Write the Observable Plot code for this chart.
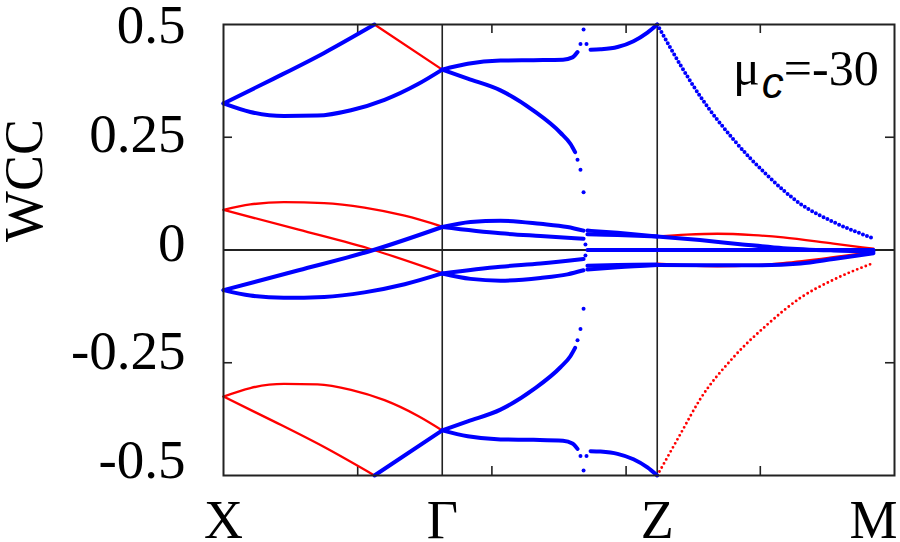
<!DOCTYPE html>
<html><head><meta charset="utf-8">
<script src="https://cdn.jsdelivr.net/npm/d3@7"></script>
<script src="https://cdn.jsdelivr.net/npm/@observablehq/plot@0.6"></script>
<style>body{margin:0;background:#fff}svg{display:block}</style>
</head><body><div id="chart"></div>
<script>
// ---- axis ticks / labels ----
const xTickPos = [0, 1.63, 3.232, 4.843];
const xTickLabels = ["X", "Γ", "Z", "M"];
const xMinorTicks = [1, 2, 3, 4];
const yTickValues = [0.5, 0.25, 0, -0.25, -0.5];
const yTickLabels = ["0.5", "0.25", "0", "-0.25", "-0.5"];
const yInnerTicks = [0.25, 0, -0.25];
const symLines = [1.63, 3.232];
const yLabel = "WCC";

// ---- red curves (solid) ----
const redXG1 = [[1.125,0.5],[1.63,0.40]];
const redXG2 = [[0,0.089],[0.2,0.101],[0.45,0.106],[0.75,0.104],[1.05,0.094],[1.35,0.076],[1.63,0.052]];
const redXG3 = [[0,0.089],[0.56,0.045],[1.118,0],[1.63,-0.051]];
const redXG4 = [[0,-0.325],[0.2,-0.306],[0.45,-0.297],[0.7,-0.298],[0.95,-0.31],[1.2,-0.333],[1.45,-0.368],[1.63,-0.40]];
const redXG5 = [[0,-0.325],[0.375,-0.38],[0.75,-0.437],[1.125,-0.5]];
const redZM1 = [[3.232,0.030],[3.45,0.034],[3.68,0.036],[3.95,0.033],[4.17,0.028],[4.545,0.014],[4.843,0.003]];
const redZM2 = [[3.232,0],[4.0,0.001],[4.843,0.001]];
const redZM3 = [[3.232,-0.030],[3.45,-0.034],[3.68,-0.036],[3.95,-0.034],[4.17,-0.029],[4.545,-0.016],[4.843,-0.004]];
// red dotted
const redZMbig = [[3.232,-0.5],[3.405,-0.408],[3.554,-0.33],[3.8,-0.238],[4.054,-0.165],[4.3,-0.106],[4.545,-0.066],[4.843,-0.029]];

// ---- blue curves (solid) ----
const blueXG1 = [[0,0.325],[0.375,0.38],[0.75,0.437],[1.125,0.5]];
const blueXG2 = [[0,0.325],[0.2,0.306],[0.45,0.297],[0.7,0.298],[0.95,0.31],[1.2,0.333],[1.45,0.368],[1.63,0.40]];
const blueXG3 = [[0,-0.089],[0.56,-0.045],[1.118,0],[1.63,0.051]];
const blueXG4 = [[0,-0.089],[0.2,-0.101],[0.45,-0.106],[0.75,-0.104],[1.05,-0.094],[1.35,-0.076],[1.63,-0.052]];
const blueXG5 = [[1.125,-0.5],[1.63,-0.40]];
const blueGZ1 = [[1.63,0.40],[1.82,0.413],[2.064,0.42],[2.31,0.421],[2.53,0.422],[2.6,0.427],[2.638,0.439]];
const blueGZ2 = [[2.735,0.444],[2.809,0.445],[2.936,0.45],[3.055,0.463],[3.159,0.482],[3.232,0.5]];
const blueGZ3 = [[1.63,0.40],[1.82,0.38],[2.064,0.354],[2.31,0.309],[2.511,0.26],[2.586,0.235],[2.62,0.217]];
const blueGZ4 = [[1.63,-0.40],[1.82,-0.413],[2.064,-0.42],[2.31,-0.421],[2.53,-0.423],[2.6,-0.429],[2.638,-0.441]];
const blueGZ5 = [[2.735,-0.446],[2.809,-0.447],[2.936,-0.452],[3.055,-0.464],[3.159,-0.482],[3.232,-0.5]];
const blueGZ6 = [[1.63,-0.40],[1.82,-0.38],[2.064,-0.354],[2.31,-0.309],[2.511,-0.26],[2.586,-0.235],[2.62,-0.217]];
const blueGZ7 = [[1.63,0.051],[1.841,0.062],[2.064,0.065],[2.362,0.058],[2.563,0.051],[2.683,0.043]];
const blueGZ8 = [[1.63,0.051],[2.064,0.037],[2.362,0.031],[2.683,0.025]];
const blueGZ9 = [[1.63,-0.052],[2.064,-0.037],[2.362,-0.030],[2.683,-0.020]];
const blueGZ10 = [[1.63,-0.052],[1.841,-0.064],[2.064,-0.068],[2.362,-0.062],[2.563,-0.054],[2.683,-0.045]];
const blueGZ11 = [[2.712,0.043],[2.936,0.038],[3.232,0.030]];
const blueGZ12 = [[2.712,0.035],[2.936,0.033],[3.232,0.030]];
const blueGZ13 = [[2.712,0],[3.232,0]];
const blueGZ14 = [[2.712,-0.035],[2.936,-0.033],[3.232,-0.032]];
const blueGZ15 = [[2.712,-0.043],[2.936,-0.038],[3.232,-0.033]];
const blueZM1 = [[3.232,0.030],[3.55,0.022],[3.85,0.013],[4.17,0.004],[4.545,-0.001],[4.843,-0.003]];
const blueZM2 = [[3.232,0],[4.843,0]];
const blueZM3 = [[3.232,-0.033],[3.6,-0.034],[3.95,-0.034],[4.3,-0.03],[4.545,-0.02],[4.843,-0.007]];
// blue dotted
const blueZMbig = [[3.232,0.5],[3.405,0.41],[3.554,0.34],[3.8,0.245],[4.054,0.165],[4.3,0.102],[4.545,0.062],[4.843,0.026]];
// isolated blue points (glitch on the Γ–Z path)
const blueDots = [
  [2.66,0.457],[2.705,0.457],[2.683,0.489],
  [2.638,0.200],[2.66,0.178],[2.683,0.128],
  [2.697,0.012],[2.697,-0.012],
  [2.638,-0.200],[2.66,-0.175],[2.683,-0.130],
  [2.66,-0.457],[2.705,-0.457],[2.683,-0.489]
];

const redSolid = [redXG1, redXG2, redXG3, redXG4, redXG5, redZM1, redZM2, redZM3];
const blueSolid = [blueXG1, blueXG2, blueXG3, blueXG4, blueXG5,
  blueGZ1, blueGZ2, blueGZ3, blueGZ4, blueGZ5, blueGZ6, blueGZ7, blueGZ8, blueGZ9, blueGZ10,
  blueGZ11, blueGZ12, blueGZ13, blueGZ14, blueGZ15, blueZM1, blueZM2, blueZM3];

const RED = "#ff0000", BLUE = "#0000ff", AX = "#222";
const FONT = "Liberation Serif, Times New Roman, serif";
const frameW = 900 - 223 - 6, frameH = 542 - 24 - 67;

const lineOf = (arr, color, w, extra = {}) =>
  Plot.line(arr, {x: d => d[0], y: d => d[1], stroke: color, strokeWidth: w, curve: "monotone-x", ...extra});

const marks = [
  Plot.ruleY([0], {stroke: AX, strokeWidth: 2}),
  Plot.ruleX(symLines, {stroke: AX, strokeWidth: 1.6}),
  Plot.tickY(yInnerTicks, {y: d => d, stroke: AX, strokeWidth: 1.6, insetRight: frameW - 9}),
  Plot.tickY(yInnerTicks, {y: d => d, stroke: AX, strokeWidth: 1.6, insetLeft: frameW - 9}),
  Plot.tickX(xMinorTicks, {x: d => d, stroke: AX, strokeWidth: 1.6, insetBottom: frameH - 9}),
  Plot.tickX(xMinorTicks, {x: d => d, stroke: AX, strokeWidth: 1.6, insetTop: frameH - 9}),
  ...redSolid.map(a => lineOf(a, RED, 2.3)),
  lineOf(redZMbig, RED, 2.9, {strokeDasharray: "0 4.6", strokeLinecap: "round"}),
  ...blueSolid.map(a => lineOf(a, BLUE, 4)),
  lineOf(blueZMbig, BLUE, 4, {strokeDasharray: "0 4.3", strokeLinecap: "round"}),
  Plot.dot(blueDots, {x: d => d[0], y: d => d[1], r: 2, fill: BLUE, stroke: null}),
  Plot.frame({stroke: AX, strokeWidth: 2}),
  Plot.axisX({ticks: xTickPos, tickFormat: d => xTickLabels[xTickPos.indexOf(d)], tickSize: 0, tickPadding: 24,
    fontSize: 54, fontFamily: FONT, label: null, fill: "#000"}),
  ...yTickValues.map((v, i) => Plot.text([v], {y: d => d, text: () => yTickLabels[i], frameAnchor: "left",
    textAnchor: "end", dx: -38, dy: 1 - 16 * (0.5 - v), fontSize: 55, fontFamily: FONT, fill: "#000"})),
  Plot.text([yLabel], {text: d => d, frameAnchor: "left", rotate: -90, dx: -199, dy: -8,
    fontSize: 54, fontFamily: FONT, fill: "#000"})
];

const chart = Plot.plot({
  width: 900, height: 542,
  marginLeft: 223, marginRight: 6, marginTop: 24, marginBottom: 67,
  x: {domain: [0, 5], axis: null},
  y: {domain: [-0.5, 0.5], axis: null},
  style: {background: "#fff", fontFamily: FONT, overflow: "visible"},
  marks
});
document.getElementById("chart").appendChild(chart);

// annotation  μ_c=-30
const ann = d3.select(chart).append("text")
  .attr("x", 733).attr("y", 85).attr("text-anchor", "start")
  .attr("font-family", FONT).attr("font-size", 50).attr("fill", "#000");
ann.append("tspan").text("μ");
ann.append("tspan").attr("font-family", "Liberation Sans, Arial, sans-serif").attr("font-style", "italic")
  .attr("font-size", 44).attr("dy", 13).attr("dx", 2).attr("fill", "#000").text("c");
ann.append("tspan").attr("dy", -13).attr("dx", 0).text("=-30");
</script></body></html>
